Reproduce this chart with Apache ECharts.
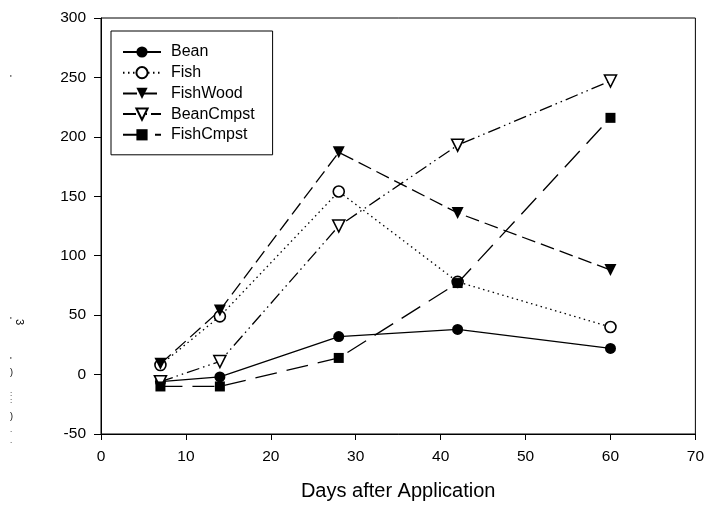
<!DOCTYPE html>
<html><head><meta charset="utf-8">
<script src="https://cdn.jsdelivr.net/npm/echarts@6/dist/echarts.min.js"></script>
<style>html,body{margin:0;padding:0;background:#fff}#c{width:707px;height:506px}</style>
</head><body><div id="c"></div>
<script>
const days = [7, 14, 28, 42, 60];
const bean = [-6, -2, 32, 38, 22];
const fish = [8, 49, 154, 78, 40];
const fishWood = [9, 54, 187, 136, 88];
const beanCmpst = [-6, 11, 125, 193, 247];
const fishCmpst = [-10, -10, 14, 77, 216];
const xTicks = [0, 10, 20, 30, 40, 50, 60, 70];
const yTicks = [-50, 0, 50, 100, 150, 200, 250, 300];

const pair = (ys) => days.map((d, i) => [d, ys[i]]);
const font = 'Liberation Sans, Arial, sans-serif';

function mk(name, ys, symbol, fill, dash, rot, size) {
  return {
    name, type: 'line', data: pair(ys), symbol, symbolSize: size,
    symbolRotate: rot || 0,
    itemStyle: { color: fill, borderColor: '#000', borderWidth: fill === '#fff' ? 1.6 : 0 },
    lineStyle: { color: '#000', width: 1.3, type: dash },
    emphasis: { disabled: true }, animation: false, z: 3
  };
}

const chart = echarts.init(document.getElementById('c'));
chart.setOption({
  backgroundColor: '#fff',
  animation: false,
  grid: { left: 101, right: 9, top: 18, bottom: 70, show: true, borderColor: '#000', borderWidth: 1 },
  xAxis: {
    type: 'value', min: xTicks[0], max: xTicks[xTicks.length - 1], interval: 10,
    name: 'Days after Application', nameLocation: 'middle', nameGap: 47,
    nameTextStyle: { fontFamily: font, fontSize: 20, color: '#000' },
    axisLine: { onZero: false, lineStyle: { color: '#000' } },
    axisTick: { length: 6, lineStyle: { color: '#000' } },
    axisLabel: { fontFamily: font, fontSize: 15.5, color: '#000', margin: 15 },
    splitLine: { show: false }
  },
  yAxis: {
    type: 'value', min: yTicks[0], max: yTicks[yTicks.length - 1], interval: 50,
    axisLine: { show: true, onZero: false, lineStyle: { color: '#000' } },
    axisTick: { show: true, length: 7, lineStyle: { color: '#000' } },
    axisLabel: { fontFamily: font, fontSize: 15.5, color: '#000', margin: 15 },
    splitLine: { show: false }
  },
  legend: {
    left: 111, top: 31, orient: 'vertical', itemGap: 4.7, itemWidth: 38, itemHeight: 14,
    padding: [13, 18, 12, 11],
    borderColor: '#000', borderWidth: 1, backgroundColor: '#fff',
    textStyle: { fontFamily: font, fontSize: 16, lineHeight: 16, color: '#000', padding: [0, 0, 0, 5] },
    data: ['Bean', 'Fish', 'FishWood', 'BeanCmpst', 'FishCmpst']
  },
  graphic: [
    { type: 'text', x: 19, y: 322, rotation: -Math.PI / 2, style: { text: '3', fontSize: 11, fontFamily: font, fill: '#000', align: 'center', verticalAlign: 'middle' } },
    { type: 'text', x: 10, y: 316, style: { text: "'", fontSize: 9, fontFamily: font, fill: '#000' } },
    { type: 'text', x: 10, y: 74, style: { text: "'", fontSize: 9, fontFamily: font, fill: '#000' } },
    { type: 'text', x: 10, y: 356, style: { text: "'", fontSize: 9, fontFamily: font, fill: '#000' } },
    { type: 'text', x: 10, y: 368, style: { text: ")", fontSize: 9, fontFamily: font, fill: '#000' } },
    { type: 'text', x: 10, y: 390, style: { text: ":\n:", fontSize: 8, lineHeight: 7, fontFamily: font, fill: '#000' } },
    { type: 'text', x: 10, y: 412, style: { text: ")", fontSize: 9, fontFamily: font, fill: '#000' } },
    { type: 'text', x: 10, y: 424, style: { text: ".\n.", fontSize: 8, lineHeight: 11, fontFamily: font, fill: '#000' } }
  ],
  series: [
    mk('Bean', bean, 'circle', '#000', 'solid', 0, 11),
    mk('Fish', fish, 'circle', '#fff', [1.5, 3.5], 0, 11),
    mk('FishWood', fishWood, 'triangle', '#000', [14, 6], 180, 12),
    mk('BeanCmpst', beanCmpst, 'triangle', '#fff', [13, 4, 1.5, 4, 1.5, 4], 180, 12),
    mk('FishCmpst', fishCmpst, 'rect', '#000', [22, 10], 0, 10)
  ]
});
</script></body></html>
